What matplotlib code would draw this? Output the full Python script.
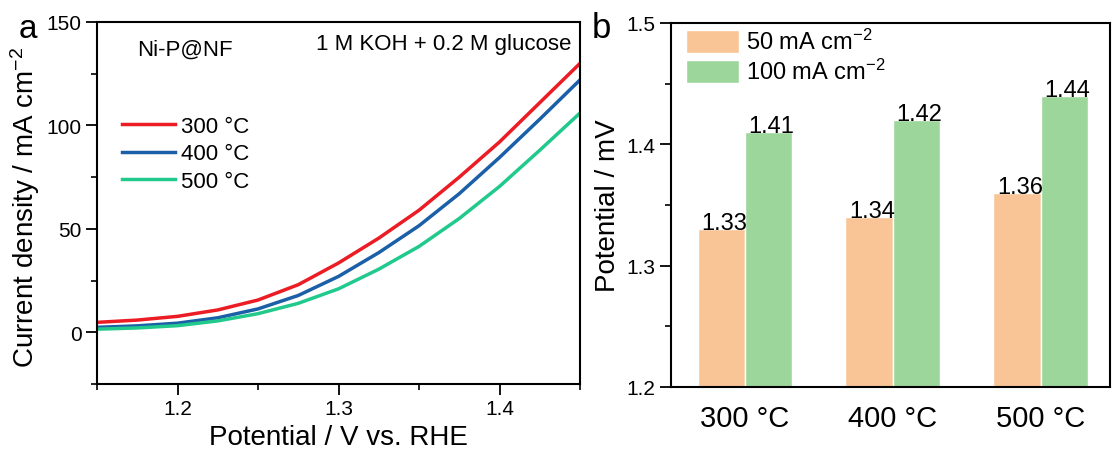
import numpy as np
import matplotlib
matplotlib.use("Agg")
import matplotlib.pyplot as plt
from matplotlib.ticker import MultipleLocator

plt.rcParams['font.family'] = ['Liberation Sans', 'DejaVu Sans']
plt.rcParams['mathtext.fontset'] = 'custom'
plt.rcParams['mathtext.rm'] = 'Liberation Sans'
plt.rcParams['mathtext.it'] = 'Liberation Sans'

#%% data, panel a (LSV curves)
potential = [1.15, 1.175, 1.2, 1.225, 1.25, 1.275, 1.3, 1.325, 1.35, 1.375, 1.4, 1.425, 1.45]
j_300 = [4.8, 5.9, 7.7, 10.8, 15.6, 23.0, 33.5, 45.5, 59.0, 75.0, 92.0, 111.0, 130.0]
j_400 = [2.4, 3.1, 4.4, 7.0, 11.3, 17.8, 27.0, 38.5, 51.5, 67.0, 84.5, 103.0, 122.0]
j_500 = [1.5, 2.1, 3.2, 5.5, 9.0, 14.0, 21.0, 30.5, 41.5, 55.0, 70.5, 88.0, 106.0]
curve_labels = ['300 °C', '400 °C', '500 °C']

#%% data, panel b (bars)
temps = ['300 °C', '400 °C', '500 °C']
pot_50 = [1.33, 1.34, 1.36]
pot_100 = [1.41, 1.42, 1.44]

red = '#ec1c24'
blue = '#1b5fa8'
green_line = '#22c98c'
orange_bar = '#f9c597'
green_bar = '#9dd69b'

fig = plt.figure(figsize=(11.13, 4.52), dpi=100)

#%% panel a
ax1 = fig.add_axes([97/1113, 1-385/452, (580-97)/1113, (385-23)/452])
for y, c, lab in zip([j_300, j_400, j_500], [red, blue, green_line], curve_labels):
    ax1.plot(potential, y, color=c, lw=2.5, label=lab, solid_joinstyle='round')
ax1.set_xlim(1.15, 1.45)
ax1.set_ylim(-25, 150)
ax1.xaxis.set_major_locator(MultipleLocator(0.1))
ax1.xaxis.set_minor_locator(MultipleLocator(0.05))
ax1.yaxis.set_major_locator(MultipleLocator(50))
ax1.yaxis.set_minor_locator(MultipleLocator(25))
ax1.set_xlabel('Potential / V vs. RHE', fontsize=20, labelpad=4)
ax1.set_ylabel('Current density / mA cm$^{-2}$', fontsize=20, labelpad=2)
ax1.yaxis.set_label_coords(-0.113, 0.49)
ax1.text(0.083, 0.925, 'Ni-P@NF', transform=ax1.transAxes, fontsize=16, va='center')
ax1.text(0.982, 0.94, '1 M KOH + 0.2 M glucose', transform=ax1.transAxes, fontsize=16,
         va='center', ha='right')
ax1.legend(loc='upper left', bbox_to_anchor=(0.052, 0.741), frameon=False, fontsize=16,
           handlelength=2.4, handletextpad=0.25, labelspacing=0.3, borderaxespad=0,
           borderpad=0)
fig.text(19/1113, 1-38/452, 'a', fontsize=24, va='baseline')

#%% panel b
ax2 = fig.add_axes([671/1113, 1-388/452, (1110-671)/1113, (388-24)/452])
x = np.arange(len(temps))
w = 0.32
b1 = ax2.bar(x - w/2, pot_50, width=w, color=orange_bar, edgecolor='white', lw=1,
             label='50 mA cm$^{-2}$')
b2 = ax2.bar(x + w/2, pot_100, width=w, color=green_bar, edgecolor='white', lw=1,
             label='100 mA cm$^{-2}$')
for bars, vals in [(b1, pot_50), (b2, pot_100)]:
    for r, v in zip(bars, vals):
        ax2.text(r.get_x() + r.get_width()/2 + 0.02, v, '%.2f' % v, ha='center',
                 va='baseline', fontsize=17)
ax2.set_xlim(-0.5, 2.47)
ax2.set_ylim(1.2, 1.5)
ax2.set_xticks(x)
ax2.set_xticklabels(temps, fontsize=21)
ax2.yaxis.set_major_locator(MultipleLocator(0.1))
ax2.yaxis.set_minor_locator(MultipleLocator(0.05))
ax2.set_ylabel('Potential / mV', fontsize=20, labelpad=4)
ax2.legend(loc='upper left', bbox_to_anchor=(0.034, 0.983), frameon=False, fontsize=17,
           handlelength=2.25, handleheight=1.15, handletextpad=0.3, labelspacing=0.2,
           borderaxespad=0, borderpad=0)
fig.text(592/1113, 1-38/452, 'b', fontsize=25, va='baseline')

for ax in (ax1, ax2):
    for s in ax.spines.values():
        s.set_linewidth(1.5)
    ax.tick_params(which='major', direction='out', length=8, width=1.3, labelsize=15, pad=3)
    ax.tick_params(which='minor', direction='out', length=4, width=1.2)
ax2.tick_params(axis='x', which='both', length=0, pad=12, labelsize=21)

fig.savefig('out.png', dpi=100)
